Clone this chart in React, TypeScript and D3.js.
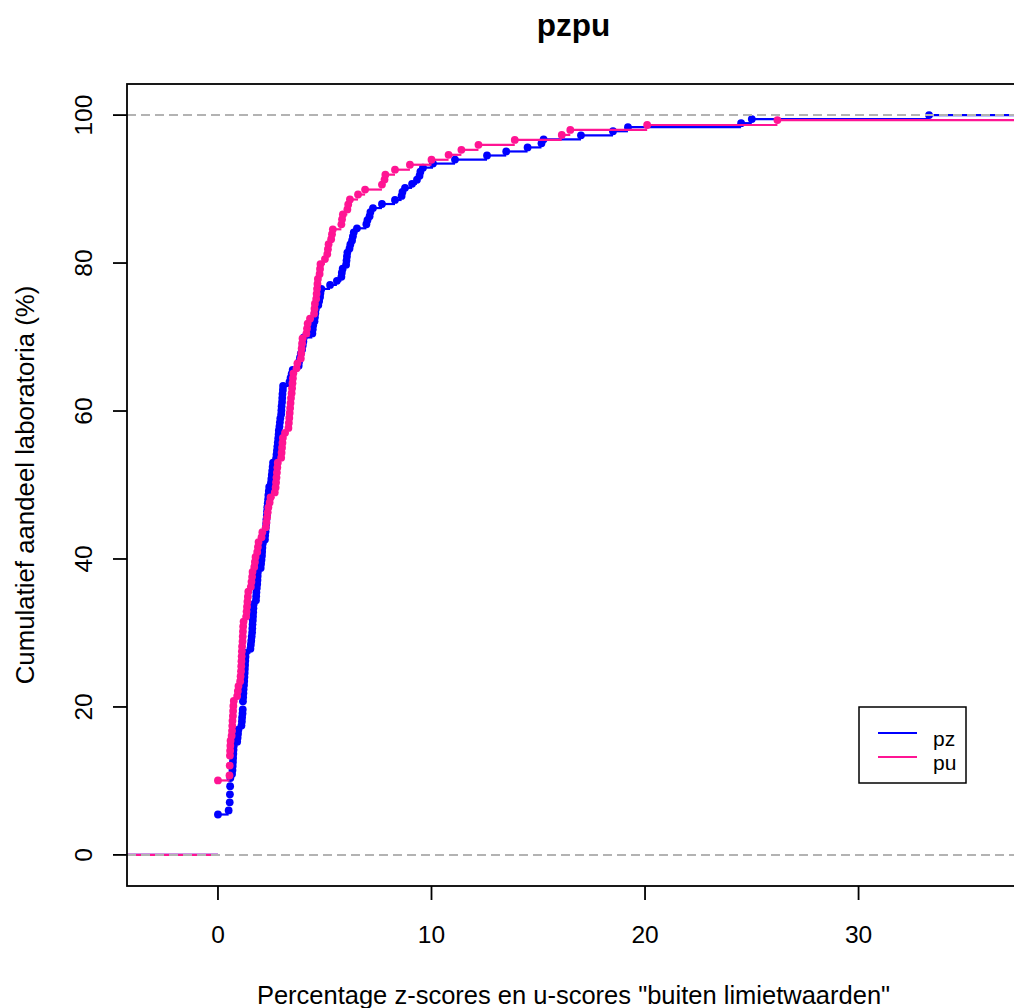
import React from "react";
import * as d3 from "d3";

// scores per lab (percentage of z-/u-scores outside limits)
const pzScores = [
  0, 0, 0, 0, 0, 0, 0, 0, 0, 0,
  0.5,
  0.55, 0.55, 0.56, 0.56, 0.57, 0.57, 0.58, 0.58,
  0.66, 0.68, 0.69, 0.7, 0.71, 0.72, 0.73, 0.74,
  0.9, 0.92, 0.94, 0.96,
  1.1, 1.12, 1.13,
  1.15, 1.16, 1.17, 1.17, 1.18, 1.19, 1.2,
  1.22, 1.23, 1.24, 1.25, 1.26, 1.27, 1.28, 1.29, 1.3,
  1.52, 1.54, 1.56, 1.58, 1.6, 1.61,
  1.62, 1.63, 1.64, 1.65, 1.66, 1.67,
  1.78, 1.79, 1.8, 1.82, 1.84, 1.85, 1.86, 1.87,
  2.0, 2.02, 2.04, 2.06, 2.07, 2.08, 2.1,
  2.2, 2.21, 2.23, 2.24, 2.26, 2.27, 2.29, 2.3, 2.31, 2.33, 2.35, 2.36, 2.38, 2.4,
  2.48, 2.5, 2.52, 2.54, 2.56, 2.58,
  2.72, 2.74, 2.76, 2.78, 2.8, 2.82, 2.84, 2.85,
  2.88, 2.9, 2.92,
  2.96, 2.97, 2.98, 3.0, 3.01, 3.02, 3.04, 3.05,
  3.35, 3.4, 3.45, 3.5,
  3.78, 3.8, 3.84, 3.88,
  3.94, 3.97, 4.0, 4.02,
  4.42, 4.44, 4.46,
  4.52, 4.54, 4.56, 4.58,
  4.7, 4.74, 4.78, 4.8, 4.84,
  5.25, 5.57,
  5.78, 5.8, 5.84,
  6.0, 6.02, 6.04, 6.06,
  6.16, 6.2,
  6.28, 6.32, 6.36,
  6.51, 6.95, 7.0, 7.1, 7.14, 7.26, 7.68, 8.29,
  8.6, 8.64, 8.76, 9.09, 9.32, 9.44, 9.48, 9.6,
  10.07, 11.1, 12.6, 13.5, 14.5, 15.15, 15.25,
  17.0, 18.5, 19.2, 24.5, 25.0, 33.3,
];

const puScores = [
  0, 0, 0, 0, 0, 0, 0, 0, 0, 0, 0, 0, 0, 0, 0,
  0.54, 0.55, 0.55, 0.56, 0.56, 0.57, 0.58, 0.59,
  0.64, 0.66, 0.67, 0.68, 0.7, 0.71, 0.72, 0.74,
  0.9, 0.93, 0.96,
  1.04, 1.06, 1.08, 1.09, 1.1, 1.11, 1.12, 1.13,
  1.15, 1.16, 1.17, 1.18, 1.2,
  1.32, 1.34, 1.36, 1.38, 1.4, 1.42,
  1.54, 1.57, 1.6, 1.62,
  1.7, 1.73, 1.76,
  1.84, 1.87, 1.9,
  2.04, 2.08,
  2.24, 2.27, 2.3, 2.33, 2.36,
  2.42, 2.46,
  2.66, 2.7, 2.72, 2.74, 2.76, 2.78, 2.8,
  2.96, 2.98, 3.0, 3.02, 3.04,
  3.14,
  3.3, 3.32, 3.34, 3.36, 3.38, 3.4, 3.42,
  3.45, 3.47, 3.49,
  3.51, 3.53,
  3.68, 3.72,
  3.88, 3.9, 3.92, 3.94, 3.96,
  4.14, 4.17, 4.2,
  4.31,
  4.5, 4.52, 4.54,
  4.6, 4.62, 4.64, 4.66, 4.68,
  4.76, 4.78, 4.8,
  5.01,
  5.12, 5.15, 5.18,
  5.3, 5.34, 5.38,
  5.78, 5.81, 5.85,
  6.06, 6.1, 6.18, 6.56, 6.89, 7.68,
  7.8, 7.84, 8.29, 8.99,
  10.0, 10.8, 11.4, 12.2, 13.9, 16.1, 16.5, 20.1, 26.2,
  41.5,
];

const seriesNames = ["pz", "pu"];
const seriesColors = ["#0000FF", "#FF1493"];
const xTicks = [0, 10, 20, 30];
const yTicks = [0, 20, 40, 60, 80, 100];

const W = 1014;
const H = 1008;
const plot = { left: 127, right: 1020, top: 84, bottom: 886 };
const font = "'Liberation Sans', Arial, Helvetica, sans-serif";

function ecdfKnots(values) {
  const sorted = values.slice().sort((a, b) => a - b);
  const n = sorted.length;
  const knots = [];
  sorted.forEach((v, i) => {
    if (i === n - 1 || sorted[i + 1] !== v) knots.push({ x: v, y: ((i + 1) / n) * 100 });
  });
  return knots;
}

export default function App() {
  const x = d3.scaleLinear().domain([-4.26, 37.56]).range([plot.left, plot.right]);
  const y = d3.scaleLinear().domain([-4.2, 104.2]).range([plot.bottom, plot.top]);
  const [x0, x1] = x.domain();

  const series = [pzScores, puScores].map((vals, k) => {
    const knots = ecdfKnots(vals);
    const segs = [{ a: x0 - 1, b: knots[0].x, v: 0 }];
    knots.forEach((d, i) => {
      segs.push({ a: d.x, b: i < knots.length - 1 ? knots[i + 1].x : x1 + 30, v: d.y });
    });
    return { name: seriesNames[k], color: seriesColors[k], knots, segs };
  });

  return (
    <svg
      width={W}
      height={H}
      style={{ position: "absolute", left: 0, top: 0, background: "#fff" }}
      fontFamily={font}
    >
      <defs>
        <clipPath id="plotclip">
          <rect x={plot.left} y={plot.top} width={plot.right - plot.left} height={plot.bottom - plot.top} />
        </clipPath>
      </defs>
      <rect x={0} y={0} width={W} height={H} fill="#fff" />

      <g clipPath="url(#plotclip)">
        {series.map((s) => (
          <g key={s.name}>
            {s.segs.map((d, i) => (
              <line key={i} x1={x(d.a)} x2={x(d.b)} y1={y(d.v)} y2={y(d.v)} stroke={s.color} strokeWidth={2.2} />
            ))}
            {s.knots.map((d, i) => (
              <circle key={i} cx={x(d.x)} cy={y(d.y)} r={3.9} fill={s.color} />
            ))}
          </g>
        ))}
        {[0, 100].map((v) => (
          <line
            key={v}
            x1={plot.left}
            x2={plot.right}
            y1={y(v)}
            y2={y(v)}
            stroke="#B3B3B3"
            strokeWidth={2}
            strokeDasharray="9 5"
          />
        ))}
      </g>

      {/* box */}
      <rect
        x={plot.left}
        y={plot.top}
        width={plot.right - plot.left}
        height={plot.bottom - plot.top}
        fill="none"
        stroke="#000"
        strokeWidth={1.8}
      />

      {/* x axis */}
      {xTicks.map((t) => (
        <g key={t}>
          <line x1={x(t)} x2={x(t)} y1={plot.bottom} y2={plot.bottom + 14} stroke="#000" strokeWidth={1.8} />
          <text x={x(t)} y={943} fontSize={24.5} textAnchor="middle" fill="#000">
            {t}
          </text>
        </g>
      ))}

      {/* y axis */}
      {yTicks.map((t) => (
        <g key={t}>
          <line x1={plot.left - 14} x2={plot.left} y1={y(t)} y2={y(t)} stroke="#000" strokeWidth={1.8} />
          <text
            transform={`translate(92,${y(t)}) rotate(-90)`}
            fontSize={24.5}
            textAnchor="middle"
            fill="#000"
          >
            {t}
          </text>
        </g>
      ))}

      <text x={(plot.left + plot.right) / 2} y={36} fontSize={31.5} fontWeight="bold" textAnchor="middle">
        pzpu
      </text>
      <text x={(plot.left + plot.right) / 2} y={1004} fontSize={25.5} textAnchor="middle">
        Percentage z-scores en u-scores "buiten limietwaarden"
      </text>
      <text
        transform={`translate(34,${(plot.top + plot.bottom) / 2}) rotate(-90)`}
        fontSize={25.8}
        textAnchor="middle"
      >
        Cumulatief aandeel laboratoria (%)
      </text>

      {/* legend */}
      <g>
        <rect x={859} y={707} width={107} height={76} fill="#fff" stroke="#000" strokeWidth={1.5} />
        {series.map((s, i) => (
          <g key={s.name}>
            <line x1={878} x2={917} y1={733 + i * 24} y2={733 + i * 24} stroke={s.color} strokeWidth={2} />
            <text x={933} y={746 + i * 24} fontSize={21} fill="#000">
              {s.name}
            </text>
          </g>
        ))}
      </g>
    </svg>
  );
}
